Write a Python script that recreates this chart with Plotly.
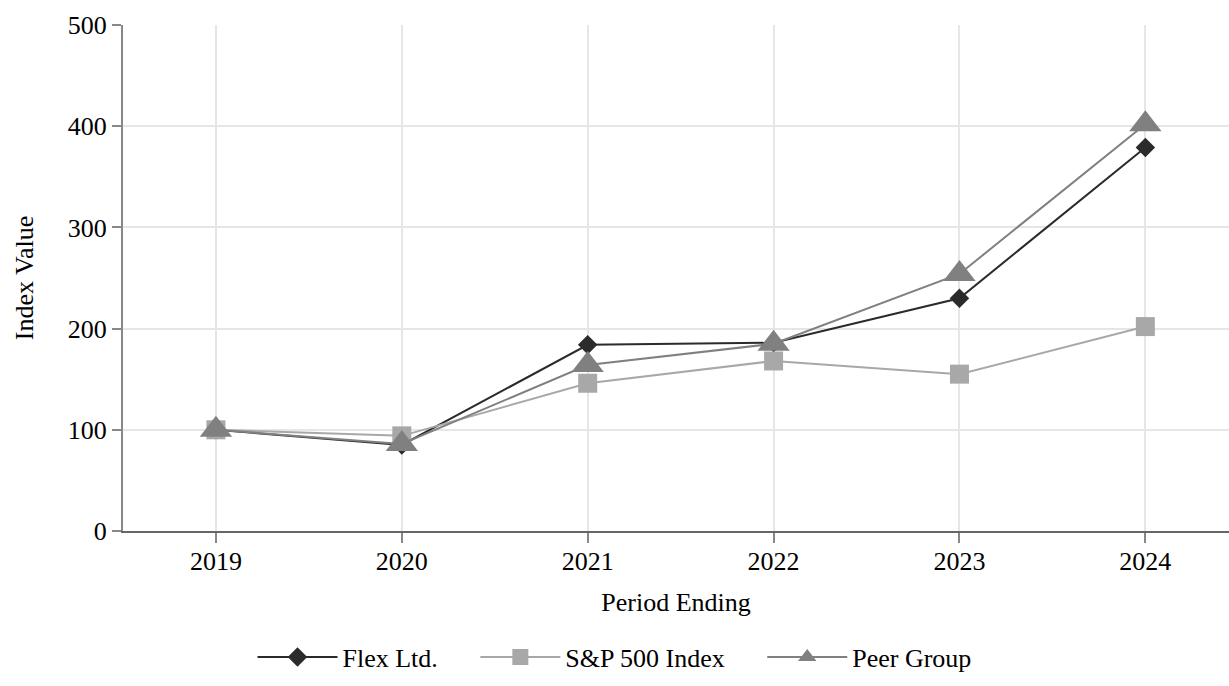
import plotly.graph_objects as go

years = [2019, 2020, 2021, 2022, 2023, 2024]
flex = [100, 85, 184, 186, 230, 379]
sp500 = [100, 94, 146, 168, 155, 202]
peer = [100, 86, 164, 185, 254, 402]

FONT = "Liberation Serif"
PAD = "\u00a0" * 5

fig = go.Figure()
fig.add_trace(go.Scatter(
    x=years, y=flex, name="Flex Ltd." + PAD, mode="lines+markers",
    line=dict(color="#2b2b2b", width=2),
    marker=dict(symbol="diamond", size=15, color="#2b2b2b"),
))
fig.add_trace(go.Scatter(
    x=years, y=sp500, name="S&P 500 Index" + PAD, mode="lines+markers",
    line=dict(color="#a8a8a8", width=2),
    marker=dict(symbol="square", size=19, color="#a8a8a8"),
))
fig.add_trace(go.Scatter(
    x=years, y=peer, name="Peer Group", mode="lines+markers",
    line=dict(color="#808080", width=2),
    marker=dict(symbol="triangle-up", size=28, color="#808080"),
))

fig.update_layout(
    width=1229, height=686,
    margin=dict(l=123, r=0, t=25, b=155),
    plot_bgcolor="white", paper_bgcolor="white",
    font=dict(family=FONT, size=26, color="#000000"),
    showlegend=True,
    legend=dict(
        orientation="h", xref="container", yref="container",
        x=0.5, xanchor="center", y=0.042, yanchor="middle",
        font=dict(family=FONT, size=26), itemwidth=80,
        traceorder="normal",
    ),
    xaxis=dict(
        range=[2018.5, 2024.45],
        tickmode="array", tickvals=years, ticktext=[str(y) for y in years],
        showgrid=True, gridcolor="#e6e6e6", gridwidth=2,
        showline=True, linecolor="#666666", linewidth=2,
        ticks="outside", ticklen=10, tickcolor="#888888", tickwidth=2,
        ticklabelstandoff=-4,
        zeroline=False,
        title=dict(text="Period Ending", font=dict(family=FONT, size=26), standoff=18),
    ),
    yaxis=dict(
        range=[0, 500], tickvals=[0, 100, 200, 300, 400, 500],
        showgrid=True, gridcolor="#e6e6e6", gridwidth=2,
        showline=True, linecolor="#888888", linewidth=2,
        ticks="outside", ticklen=9, tickcolor="#888888", tickwidth=2,
        zeroline=False,
        title=dict(text="Index Value", font=dict(family=FONT, size=26), standoff=27),
    ),
)

fig.write_html("out.html", config={"displayModeBar": False},
               post_script="document.body.style.margin='0';")
